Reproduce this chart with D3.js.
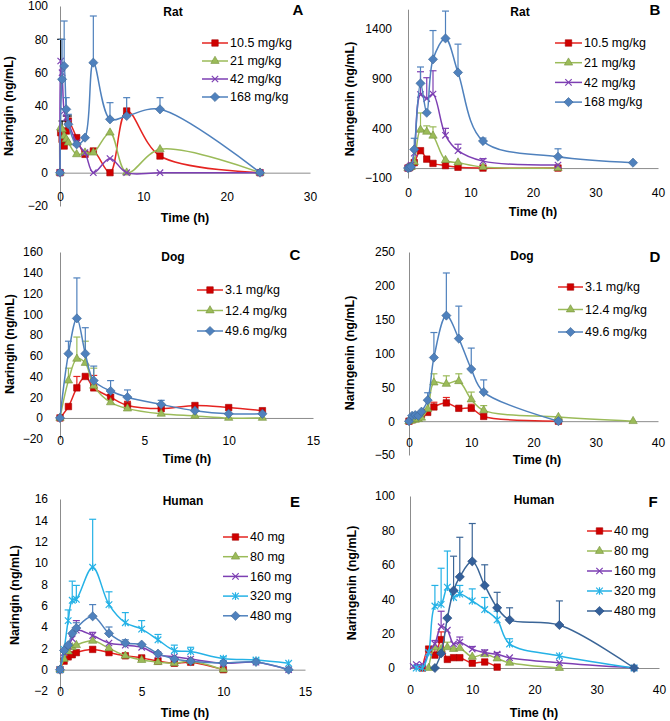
<!DOCTYPE html>
<html>
<head>
<meta charset="utf-8">
<script src="https://cdn.jsdelivr.net/npm/d3@7"></script>
<style>
  body {margin: 0; background: #fff;}
  svg {display: block; font-family: "Liberation Sans", Arial, sans-serif;}
</style>
</head>
<body>
<script>
// ---- data ----
// A: naringin, rat
const timeA = [0, 0.083, 0.25, 0.5, 0.75, 1, 2, 3, 4, 6, 8, 12, 24]
const ratNgn105 = [0, 24, 20, 16, 25, 31, 21, 11, 13, 0, 37, 10, 0]
const ratNgn105Sd = [0, 0, 0, 0, 9, 3, 0, 0, 0, 0, 0, 0, 0]
const ratNgn21 = [0, 27, 26, 22, 20, 18, 11, 12, 12, 24, 0, 14, 0]
const ratNgn21Sd = [0, 0, 5, 0, 0, 0, 0, 0, 0, 0, 0, 0, 0]
const ratNgn42 = [0, 67, 60, 37, 33, 30, 18, 12, 0, 8.5, 0, 0, 0]
const ratNgn42Sd = [0, 13, 0, 0, 0, 0, 0, 0, 0, 0, 0, 0, 0]
const ratNgn168 = [0, null, 56, 64, 38, 29, 17, 21, 66, 32, 34, 38, 0]
const ratNgn168Sd = [0, 0, 24, 27, 7, 6, 0, 0, 28, 10, 11, 7, 0]

// B: naringenin, rat
const timeB = [0, 0.25, 0.5, 1, 2, 3, 4, 6, 8, 12, 24, 36]
const ratNge105 = [0, 5, 20, 55, 175, 90, 47, 25, 8, 0, 0, null]
const ratNge21 = [0, 5, 10, 60, 385, 365, 325, 80, 55, 10, 0, null]
const ratNge21Sd = [0, 0, 0, 0, 170, 60, 90, 0, 0, 0, 0, 0]
const ratNge42 = [0, 10, 30, 150, 740, 700, 745, 330, 175, 70, 30, null]
const ratNge42Sd = [0, 0, 0, 0, 230, 210, 235, 70, 65, 25, 0, 0]
const ratNge168 = [0, 5, 13, 188, 853, 557, 1095, 1306, 963, 272, 114, 54]
const ratNge168Sd = [0, 0, 0, 112, 165, 0, 290, 275, 285, 30, 80, 0]

// C: naringin, dog
const timeC = [0, 0.5, 1, 1.5, 2, 3, 4, 6, 8, 10, 12]
const dogNgn31 = [0, 11, 29, 40, 29, 20, 12, 9, 12, 10, 7]
const dogNgn31Sd = [0, 0, 11, 0, 12, 0, 4, 0, 0, 0, 0]
const dogNgn124 = [0, 36, 57, 53, 31, 15, 9, 4, 2, 0, 0]
const dogNgn124Sd = [0, 12, 21, 21, 17, 0, 0, 0, 0, 0, 0]
const dogNgn496 = [0, 62, 96, 62, 36, 26, 20, 13, 7, 4, 4]
const dogNgn496Sd = [0, 12, 39, 25, 14, 10, 7, 4, 0, 0, 0]

// D: naringenin, dog
const timeD = [0, 0.5, 1, 1.5, 2, 3, 4, 6, 8, 10, 12, 24, 36]
const dogNge31 = [0, 2, 4, 6, 10, 13, 21, 27, 19, 19, 7, 0, null]
const dogNge31Sd = [0, 0, 0, 0, 0, 0, 7, 8, 0, 6, 0, 0, 0]
const dogNge124 = [0, 1, 2, 3, 5, 18, 57, 55, 59, 32, 16, 6, 0]
const dogNge124Sd = [0, 0, 0, 0, 0, 0, 13, 12, 11, 11, 7, 0, 0]
const dogNge496 = [0, 8, 9, 8, 14, 31, 94, 156, 122, 77, 43, 0, null]
const dogNge496Sd = [0, 0, 0, 0, 0, 11, 37, 63, 48, 31, 18, 0, 0]

// E: naringin, human
const timeE = [0, 0.25, 0.5, 0.75, 1, 2, 3, 4, 5, 6, 7, 8, 10, 12, 14]
const humNgn40 = [0, 0.8, 1.2, 1.4, 1.6, 1.9, 1.6, 1.3, 1.1, 0.8, 0.6, 0.7, 0, null, null]
const humNgn80 = [0, 1.0, 1.7, 2.1, 2.3, 2.7, 2.0, 1.3, 0.9, 0.7, 0.6, 0.8, 0, null, null]
const humNgn160 = [0, 1.6, 2.2, 2.9, 3.7, 3.2, 2.5, 2.3, 2.1, 1.4, 1.2, 1.0, 0.6, 0.7, 0]
const humNgn160Sd = [0, 0, 0, 0, 0.9, 0.3, 0, 0, 0, 0, 0, 0, 0, 0, 0]
const humNgn320 = [0, 1.9, 4.6, 6.5, 6.6, 9.6, 6.1, 4.4, 3.8, 2.8, 1.8, 1.7, 1.05, 0.9, 0.6]
const humNgn320Sd = [0, 0, 1.0, 1.8, 1.3, 4.5, 1.2, 0.95, 0.8, 0.5, 0.5, 0.4, 0.15, 0.1, 0]
const humNgn480 = [0, 1.8, 2.3, 3.4, 3.9, 5.0, 3.4, 2.5, 2.35, 1.5, 1.0, 0.8, 0.63, 0.72, 0]
const humNgn480Sd = [0, 0, 0, 0, 0.5, 1.1, 0.6, 0.3, 0, 0, 0, 0, 0, 0, 0]

// F: naringenin, human
const timeF40 = [2, 3, 4, 5, 6, 7, 8, 10, 12, 14]
const humNge40 = [0, 11, 7.5, 16.5, 5, 6, 6, 2.8, 3.5, 0.5]
const humNge40Sd = [0, 0, 5, 4.5, 0, 0, 0, 0, 0, 0]
const timeF80 = [3, 4, 5, 6, 7, 8, 10, 12, 14, 16, 24]
const humNge80 = [0, 12, 11, 12, 11, 11.5, 6.5, 8, 5.5, 3, 0]
const humNge80Sd = [0, 0, 0, 3, 0, 0, 0, 0, 0, 0, 0]
const timeF160 = [0.5, 1, 2, 3, 4, 5, 6, 7, 8, 10, 12, 14, 16, 24, 36]
const humNge160 = [1, 2, 2, 9, 14, 24, 22, 14, 15, 11, 9, 8, 6, 3, 0]
const humNge160Sd = [0, 0, 0, 0, 2, 9, 0, 0, 3, 1.5, 1.5, 1, 0, 0, 0]
const timeF320 = [1, 2, 3, 4, 5, 6, 7, 8, 10, 12, 14, 16, 24, 36]
const humNge320 = [0, 0, 9, 36, 37, 47, 41, 43, 39, 34, 28, 14, 7, 0]
const humNge320Sd = [0, 0, 0, 12, 21, 21, 0, 5, 7, 7, 5, 3, 0, 0]
const timeF480 = [4, 5, 6, 7, 8, 10, 12, 14, 16, 24, 36]
const humNge480 = [0, 8.5, 29, 45, 53, 62, 48, 35, 28, 25, 0]
const humNge480Sd = [0, 0, 0, 20, 23, 22, 12, 9, 7, 14, 0]

// tick labels
const ticksA = [-20, 0, 20, 40, 60, 80, 100]
const ticksB = [-100, 400, 900, 1400]
const ticksC = [-20, 0, 20, 40, 60, 80, 100, 120, 140, 160]
const ticksD = [-50, 0, 50, 100, 150, 200, 250]
const ticksE = [-2, 0, 2, 4, 6, 8, 10, 12, 14, 16]
const ticksF = [0, 20, 40, 60, 80, 100]
const xTicks15 = [0, 5, 10, 15]
const xTicks30 = [0, 10, 20, 30]
const xTicks40 = [0, 10, 20, 30, 40]

// ---- styles ----
const RED = {line: '#E52421', fill: '#D00000', stroke: '#A50000', marker: 'square'}
const GREEN = {line: '#9BBB59', fill: '#9BBB59', stroke: '#76923C', marker: 'triangle'}
const PURPLE = {line: '#7D3FB3', fill: 'none', stroke: '#7D3FB3', marker: 'x'}
const BLUE = {line: '#4F81BD', fill: '#4F81BD', stroke: '#3A6494', marker: 'diamond'}
const CYAN = {line: '#25B2E6', fill: 'none', stroke: '#25B2E6', marker: 'star'}
const NAVY = {line: '#3A6597', fill: '#34609A', stroke: '#24487A', marker: 'diamond'}

const svg = d3.select('body').append('svg').attr('width', 670).attr('height', 721)

function markerPath(type) {
  if (type === 'square') return d3.symbol().type(d3.symbolSquare).size(42)()
  if (type === 'triangle') return d3.symbol().type(d3.symbolTriangle).size(30)()
  if (type === 'diamond') return 'M0,-4.6L4.6,0L0,4.6L-4.6,0Z'
  if (type === 'x') return 'M-3.2,-3.2L3.2,3.2M-3.2,3.2L3.2,-3.2'
  return 'M-3.3,-3.3L3.3,3.3M-3.3,3.3L3.3,-3.3M0,-3.8L0,3.8'
}

function drawMarker(g, st, cx, cy) {
  g.append('path').attr('d', markerPath(st.marker))
    .attr('transform', `translate(${cx},${cy})`)
    .attr('fill', st.fill).attr('stroke', st.stroke)
    .attr('stroke-width', st.fill === 'none' ? 1.2 : 0.6)
}

function panel(cfg) {
  const x = d3.scaleLinear().domain(cfg.xDomain).range(cfg.xRange)
  const y = d3.scaleLinear().domain(cfg.yDomain).range(cfg.yRange)
  const g = svg.append('g')

  // y axis
  g.append('g').attr('transform', `translate(${x(0)},0)`)
    .call(d3.axisLeft(y).tickValues(cfg.yTicks).tickSize(0).tickSizeOuter(0)
      .tickPadding(x(0) - cfg.yLabelX).tickFormat(d3.format('d')))
    .call(a => a.select('.domain').attr('stroke', '#8c8c8c'))
    .call(a => a.selectAll('text').attr('font-size', 12).attr('fill', '#000')
      .attr('font-family', '"Liberation Sans", Arial, sans-serif'))

  // x axis line at zero
  g.append('g').attr('transform', `translate(0,${y(0)})`)
    .call(d3.axisBottom(x).tickValues(cfg.xTicks).tickSize(0).tickSizeOuter(0).tickFormat(''))
    .call(a => a.select('.domain').attr('stroke', '#8c8c8c'))
  // x tick labels sit low
  g.append('g').attr('transform', `translate(0,${cfg.xLabelY})`)
    .call(d3.axisBottom(x).tickValues(cfg.xTicks).tickSize(0).tickPadding(0))
    .call(a => a.select('.domain').remove())
    .call(a => a.selectAll('text').attr('y', 0).attr('dy', '0.35em')
      .attr('font-size', 12).attr('fill', '#000')
      .attr('font-family', '"Liberation Sans", Arial, sans-serif'))

  // titles
  const txt = (s, p, size) => g.append('text').text(s)
    .attr('x', p[0]).attr('y', p[1]).attr('dy', '0.35em')
    .attr('text-anchor', 'middle').attr('font-size', size).attr('font-weight', 'bold')
  txt(cfg.title, cfg.titlePos, 12)
  txt(cfg.letter, cfg.letterPos, 15)
  txt('Time (h)', cfg.xTitlePos, 12.5)
  g.append('text').text(cfg.yTitle)
    .attr('transform', `translate(${cfg.yTitlePos[0]},${cfg.yTitlePos[1]}) rotate(-90)`)
    .attr('dy', '0.35em').attr('text-anchor', 'middle')
    .attr('font-size', 12.5).attr('font-weight', 'bold')

  const line = d3.line().curve(d3.curveCatmullRom.alpha(0.5))
    .x(d => x(d.t)).y(d => y(d.v))

  cfg.series.forEach((s, i) => {
    const pts = s.t.map((t, j) => ({t, v: s.v[j], sd: s.sd ? s.sd[j] : 0}))
      .filter(d => d.v !== null && d.v !== undefined)
    const sg = g.append('g')
    // error bars (upper only)
    pts.filter(d => d.sd > 0).forEach(d => {
      const ec = s.errColor || s.st.line
      sg.append('line').attr('x1', x(d.t)).attr('x2', x(d.t))
        .attr('y1', y(d.v)).attr('y2', y(d.v + d.sd)).attr('stroke', ec).attr('stroke-width', 1.2)
      sg.append('line').attr('x1', x(d.t) - 3.5).attr('x2', x(d.t) + 3.5)
        .attr('y1', y(d.v + d.sd)).attr('y2', y(d.v + d.sd)).attr('stroke', ec).attr('stroke-width', 1.2)
    })
    sg.append('path').datum(pts).attr('d', line)
      .attr('fill', 'none').attr('stroke', s.st.line).attr('stroke-width', 1.5)
    pts.forEach(d => drawMarker(sg, s.st, x(d.t), y(d.v)))

    // legend
    const L = cfg.legend
    const ly = L.y0 + i * L.dy
    g.append('line').attr('x1', L.x1).attr('x2', L.x2).attr('y1', ly).attr('y2', ly)
      .attr('stroke', s.st.line).attr('stroke-width', 1.5)
    drawMarker(g, s.st, (L.x1 + L.x2) / 2, ly)
    g.append('text').text(s.name).attr('x', L.x2 + 2).attr('y', ly).attr('dy', '0.35em')
      .attr('font-size', 12.5)
  })
}

panel({
  xDomain: [0, 30], xRange: [60, 310], yDomain: [-20, 100], yRange: [206, 6],
  xTicks: xTicks30, yTicks: ticksA, xLabelY: 197, yLabelX: 48,
  title: 'Rat', titlePos: [173, 12], letter: 'A', letterPos: [298, 10],
  xTitlePos: [185, 218], yTitle: 'Naringin (ng/mL)', yTitlePos: [9, 106],
  legend: {x1: 202, x2: 228, y0: 43, dy: 18},
  series: [
    {name: '10.5 mg/kg', t: timeA, v: ratNgn105, sd: ratNgn105Sd, st: RED, errColor: '#000'},
    {name: '21 mg/kg', t: timeA, v: ratNgn21, sd: ratNgn21Sd, st: GREEN, errColor: '#000'},
    {name: '42 mg/kg', t: timeA, v: ratNgn42, sd: ratNgn42Sd, st: PURPLE, errColor: '#000'},
    {name: '168 mg/kg', t: timeA, v: ratNgn168, sd: ratNgn168Sd, st: BLUE}
  ]
})

panel({
  xDomain: [0, 40], xRange: [408, 658], yDomain: [-100, 1600], yRange: [178, 9.2],
  xTicks: xTicks40, yTicks: ticksB, xLabelY: 193, yLabelX: 392,
  title: 'Rat', titlePos: [520, 12], letter: 'B', letterPos: [655, 10],
  xTitlePos: [533, 212], yTitle: 'Naringenin (ng/mL)', yTitlePos: [350, 99],
  legend: {x1: 555, x2: 582, y0: 43, dy: 19.7},
  series: [
    {name: '10.5 mg/kg', t: timeB, v: ratNge105, st: RED},
    {name: '21 mg/kg', t: timeB, v: ratNge21, sd: ratNge21Sd, st: GREEN},
    {name: '42 mg/kg', t: timeB, v: ratNge42, sd: ratNge42Sd, st: PURPLE},
    {name: '168 mg/kg', t: timeB, v: ratNge168, sd: ratNge168Sd, st: BLUE}
  ]
})

panel({
  xDomain: [0, 15], xRange: [60, 313], yDomain: [-20, 160], yRange: [438.7, 252],
  xTicks: xTicks15, yTicks: ticksC, xLabelY: 441, yLabelX: 43,
  title: 'Dog', titlePos: [173, 257], letter: 'C', letterPos: [295, 255],
  xTitlePos: [187, 459], yTitle: 'Naringin (ng/mL)', yTitlePos: [10, 344],
  legend: {x1: 197, x2: 223, y0: 290, dy: 20.5},
  series: [
    {name: '3.1 mg/kg', t: timeC, v: dogNgn31, sd: dogNgn31Sd, st: RED},
    {name: '12.4 mg/kg', t: timeC, v: dogNgn124, sd: dogNgn124Sd, st: GREEN},
    {name: '49.6 mg/kg', t: timeC, v: dogNgn496, sd: dogNgn496Sd, st: BLUE}
  ]
})

panel({
  xDomain: [0, 40], xRange: [409, 658], yDomain: [-50, 250], yRange: [455, 252],
  xTicks: xTicks40, yTicks: ticksD, xLabelY: 443, yLabelX: 395,
  title: 'Dog', titlePos: [522, 256], letter: 'D', letterPos: [655, 257],
  xTitlePos: [537, 460], yTitle: 'Naringenin (ng/mL)', yTitlePos: [350, 353],
  legend: {x1: 558, x2: 583, y0: 287, dy: 22.5},
  series: [
    {name: '3.1 mg/kg', t: timeD, v: dogNge31, sd: dogNge31Sd, st: RED},
    {name: '12.4 mg/kg', t: timeD, v: dogNge124, sd: dogNge124Sd, st: GREEN},
    {name: '49.6 mg/kg', t: timeD, v: dogNge496, sd: dogNge496Sd, st: BLUE}
  ]
})

panel({
  xDomain: [0, 15], xRange: [60, 305], yDomain: [-2, 16], yRange: [691, 499],
  xTicks: xTicks15, yTicks: ticksE, xLabelY: 692, yLabelX: 48,
  title: 'Human', titlePos: [183, 501], letter: 'E', letterPos: [295, 502],
  xTitlePos: [185, 713], yTitle: 'Naringin (ng/mL)', yTitlePos: [15, 595],
  legend: {x1: 223, x2: 248, y0: 537, dy: 19.7},
  series: [
    {name: '40 mg', t: timeE, v: humNgn40, st: RED},
    {name: '80 mg', t: timeE, v: humNgn80, st: GREEN},
    {name: '160 mg', t: timeE, v: humNgn160, sd: humNgn160Sd, st: PURPLE},
    {name: '320 mg', t: timeE, v: humNgn320, sd: humNgn320Sd, st: CYAN},
    {name: '480 mg', t: timeE, v: humNgn480, sd: humNgn480Sd, st: BLUE}
  ]
})

panel({
  xDomain: [0, 40], xRange: [410, 659], yDomain: [0, 100], yRange: [668, 496],
  xTicks: xTicks40, yTicks: ticksF, xLabelY: 690, yLabelX: 395,
  title: 'Human', titlePos: [534, 500], letter: 'F', letterPos: [653, 502],
  xTitlePos: [534, 713], yTitle: 'Naringenin (ng/mL)', yTitlePos: [352, 583],
  legend: {x1: 587, x2: 612, y0: 531, dy: 20},
  series: [
    {name: '40 mg', t: timeF40, v: humNge40, sd: humNge40Sd, st: RED},
    {name: '80 mg', t: timeF80, v: humNge80, sd: humNge80Sd, st: GREEN},
    {name: '160 mg', t: timeF160, v: humNge160, sd: humNge160Sd, st: PURPLE},
    {name: '320 mg', t: timeF320, v: humNge320, sd: humNge320Sd, st: CYAN},
    {name: '480 mg', t: timeF480, v: humNge480, sd: humNge480Sd, st: NAVY}
  ]
})
</script>
</body>
</html>
